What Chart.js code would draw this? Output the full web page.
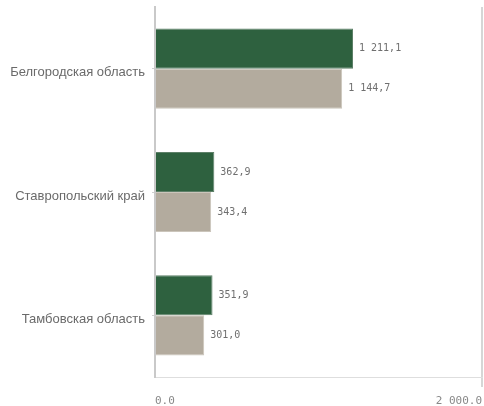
<!DOCTYPE html>
<html lang="ru">
<head>
    <meta charset="UTF-8">
    <title>Регионы</title>
    <script src="https://cdn.jsdelivr.net/npm/chart.js"></script>
    <style>
        html, body { margin: 0; padding: 0; background: #fff; }
        #wrap { width: 484px; height: 406px; }
    </style>
</head>
<body>
    <div id="wrap"><canvas id="regionChart"></canvas></div>

    <script>
        // data
        const regions = ['Белгородская область', 'Ставропольский край', 'Тамбовская область'];
        const seriesGreen = [1211.1, 362.9, 351.9];
        const seriesGrey = [1144.7, 343.4, 301.0];
        const axisTicks = [0, 2000];

        // "1 211,1" style for bar labels
        function fmtComma(v) {
            const parts = v.toFixed(1).split('.');
            return parts[0].replace(/\B(?=(\d{3})+(?!\d))/g, ' ') + ',' + parts[1];
        }
        // "2 000.0" style for axis
        function fmtDot(v) {
            const parts = v.toFixed(1).split('.');
            return parts[0].replace(/\B(?=(\d{3})+(?!\d))/g, ' ') + '.' + parts[1];
        }

        const barLabels = {
            id: 'barLabels',
            afterDatasetsDraw(chart) {
                const c = chart.ctx;
                c.save();
                c.font = '10px "DejaVu Sans Mono"';
                c.fillStyle = '#6f6f6f';
                c.textBaseline = 'middle';
                c.textAlign = 'left';
                chart.data.datasets.forEach((ds, i) => {
                    chart.getDatasetMeta(i).data.forEach((bar, j) => {
                        c.fillText(fmtComma(ds.data[j]), bar.x + 6, bar.y);
                    });
                });
                c.restore();
            }
        };

        // keep the axes from adding label overflow room
        function noPad(scale) {
            scale.paddingTop = 0;
            scale.paddingBottom = 0;
            scale.paddingLeft = 0;
            scale.paddingRight = 0;
        }

        var ctx = document.getElementById('regionChart').getContext('2d');
        var chart = new Chart(ctx, {
            type: 'bar',
            data: {
                labels: regions,
                datasets: [{
                    data: seriesGreen,
                    backgroundColor: '#2e613f',
                    borderColor: '#5d8068',
                    borderWidth: 1
                }, {
                    data: seriesGrey,
                    backgroundColor: '#b3ab9e',
                    borderColor: '#cbc5bb',
                    borderWidth: 1
                }]
            },
            options: {
                indexAxis: 'y',
                responsive: true,
                maintainAspectRatio: false,
                animation: false,
                layout: { padding: { top: 7, right: 2 } },
                plugins: {
                    legend: { display: false },
                    tooltip: { enabled: false }
                },
                datasets: {
                    bar: { categoryPercentage: 0.65, barPercentage: 1 }
                },
                scales: {
                    x: {
                        min: axisTicks[0],
                        max: axisTicks[1],
                        afterBuildTicks: (scale) => {
                            scale.ticks = axisTicks.map(v => ({ value: v }));
                        },
                        afterFit: (scale) => { scale.height = 29; noPad(scale); },
                        border: { color: '#dedede', width: 1 },
                        grid: {
                            color: (c) => c.tick && c.tick.value === 2000 ? '#d6d6d6' : 'transparent',
                            tickColor: (c) => c.tick && c.tick.value === 2000 ? '#d6d6d6' : 'transparent',
                            lineWidth: 2,
                            tickLength: 10
                        },
                        ticks: {
                            align: 'inner',
                            padding: 8,
                            color: '#888',
                            font: { family: '"DejaVu Sans Mono"', size: 11 },
                            callback: (v) => fmtDot(v)
                        }
                    },
                    y: {
                        afterFit: (scale) => { scale.width = 155; noPad(scale); },
                        border: { color: '#c9c9c9', width: 2 },
                        grid: {
                            offset: false,
                            drawOnChartArea: false,
                            tickLength: 3,
                            tickColor: '#d0d0d0'
                        },
                        ticks: {
                            padding: 7,
                            labelOffset: 4,
                            color: '#6a6a6a',
                            font: { family: '"Liberation Sans"', size: 13 }
                        }
                    }
                }
            },
            plugins: [barLabels]
        });
    </script>
</body>
</html>
